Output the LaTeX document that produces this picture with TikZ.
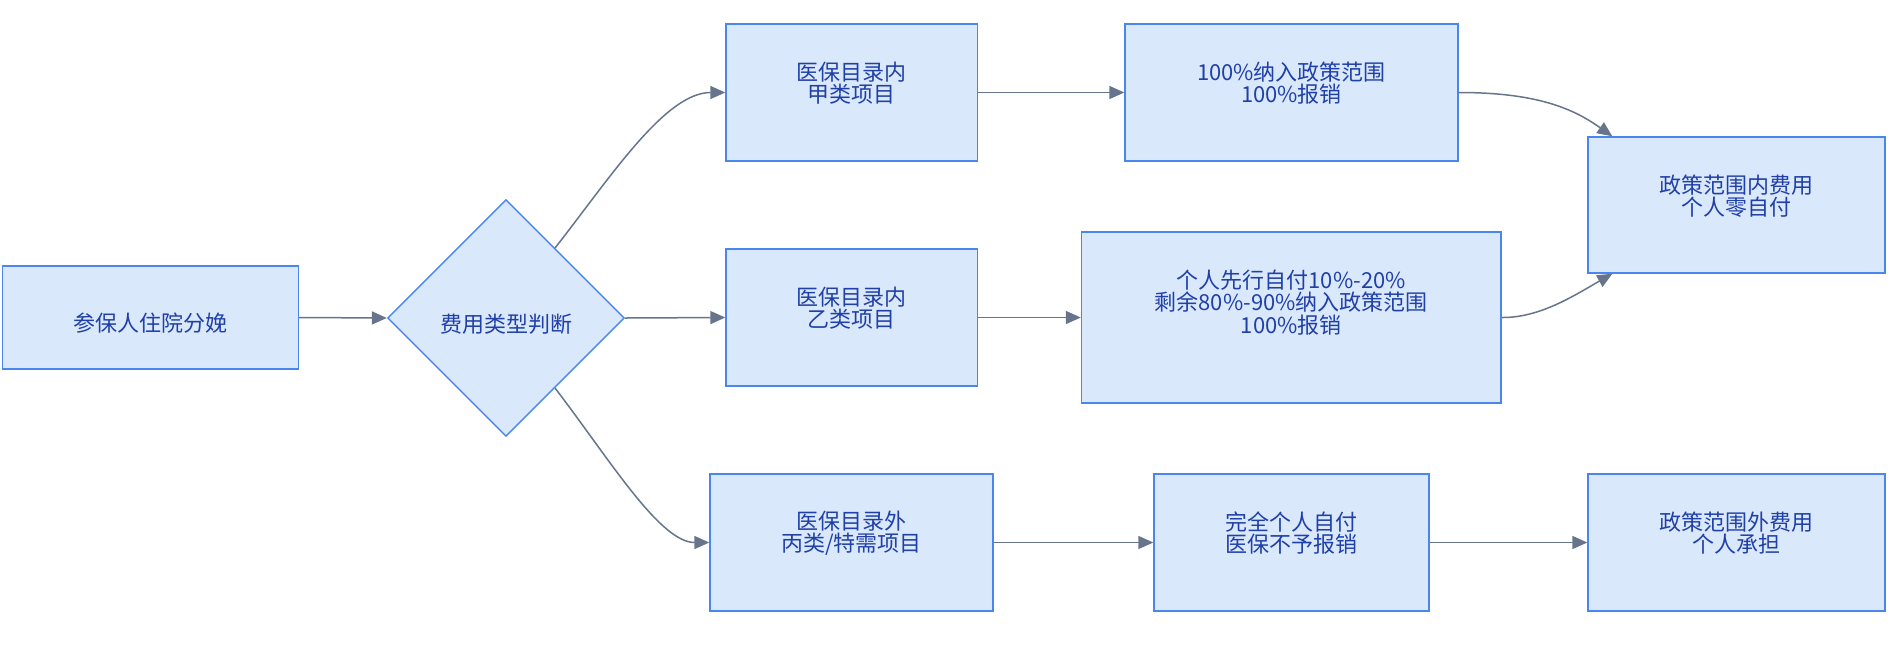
\documentclass[tikz,border=0pt]{standalone}
\usepackage{fontspec}
\setmainfont{Noto Sans CJK SC}
\usetikzlibrary{arrows.meta,shapes.geometric,calc}
\definecolor{boxfill}{HTML}{DAE8FC}
\definecolor{boxline}{HTML}{4A86F0}
\definecolor{txtblue}{HTML}{2040A8}
\definecolor{arrowc}{HTML}{66758C}
\begin{document}
\begin{tikzpicture}[x=1pt,y=-1pt,
  box/.style={draw=boxline, fill=boxfill, line width=1.4pt, rectangle, inner sep=0pt},
  dia/.style={draw=boxline, fill=boxfill, line width=1.4pt, diamond, aspect=1, inner sep=0pt, minimum width=237pt, minimum height=237pt},
  lbl/.style={text=txtblue, align=center, inner sep=0pt, font=\fontsize{22pt}{22.5pt}\selectfont},
  conn/.style={draw=arrowc, line width=1.5pt, -{Triangle[length=15pt,width=13pt]}}]
\useasboundingbox (0,0) rectangle (1897,649);
\fill[white] (0,0) rectangle (1897,649);

% boxes
\node[box, minimum width=296pt, minimum height=103pt] (a) at (150.5,317.5) {};
\node[dia] (d) at (506,318) {};
\node[box, minimum width=251.5pt, minimum height=137pt] (b1) at (851.75,92.5) {};
\node[box, minimum width=333pt, minimum height=137pt] (c1) at (1291.5,92.5) {};
\node[box, minimum width=251.5pt, minimum height=137pt] (b2) at (851.75,317.5) {};
\node[box, minimum width=419.5pt, minimum height=171pt] (c2) at (1291.25,317.5) {};
\node[box, minimum width=283pt, minimum height=137pt] (b3) at (851.5,542.5) {};
\node[box, minimum width=275pt, minimum height=137pt] (c3) at (1291.5,542.5) {};
\node[box, minimum width=297pt, minimum height=136pt] (e1) at (1736.5,205) {};
\node[box, minimum width=297pt, minimum height=137pt] (e2) at (1736.5,542.5) {};

% texts
\node[lbl] (ta) at (150.5,323.5) {参保人住院分娩};
\node[lbl] (td) at (506,324) {费用类型判断};
\node[lbl] (tb1) at (851.75,83) {医保目录内\\甲类项目};
\node[lbl] (tc1) at (1291.5,83) {100\%纳入政策范围\\100\%报销};
\node[lbl] (tb2) at (851.75,308) {医保目录内\\乙类项目};
\node[lbl] (tc2) at (1291.25,302.5) {个人先行自付10\%-20\%\\剩余80\%-90\%纳入政策范围\\100\%报销};
\node[lbl] (tb3) at (851.5,533) {医保目录外\\丙类/特需项目};
\node[lbl] (tc3) at (1291.5,533) {完全个人自付\\医保不予报销};
\node[lbl] (te1) at (1736.5,196) {政策范围内费用\\个人零自付};
\node[lbl] (te2) at (1736.5,533) {政策范围外费用\\个人承担};

% connectors
\draw[conn] (a.east) -- (d.west);
\draw[conn] (d.east) -- (b2.west);
\draw[conn] (d.55) .. controls (610,178) and (665,92.5) .. (b1.west);
\draw[conn] (d.-55) .. controls (610,460) and (660,542.5) .. (b3.west);
\draw[conn] (b1.east) -- (c1.west);
\draw[conn] (b2.east) -- (c2.west);
\draw[conn] (b3.east) -- (c3.west);
\draw[conn] (c3.east) -- (e2.west);
\draw[conn] (c1.east) .. controls (1540,92.5) and (1575,110) .. ($(e1.north west)+(25,0)$);
\draw[conn] (c2.east) .. controls (1540,318) and (1575,295) .. ($(e1.south west)+(25,0)$);
\end{tikzpicture}
\end{document}
